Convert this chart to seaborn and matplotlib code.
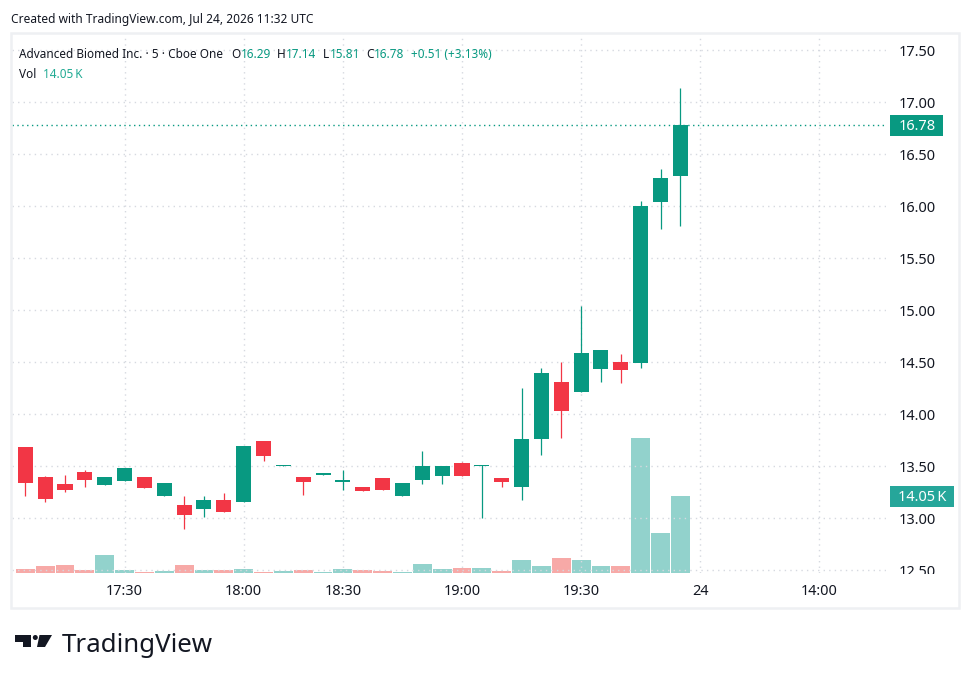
import matplotlib
matplotlib.use("Agg")
import numpy as np
import pandas as pd
import seaborn as sns
import matplotlib.pyplot as plt
from matplotlib.patches import Rectangle, Polygon, Circle
from matplotlib.transforms import IdentityTransform, ScaledTranslation

# ---------------- data ----------------
times = ['17:05', '17:10', '17:15', '17:20', '17:25', '17:30', '17:35', '17:40',
         '17:45', '17:50', '17:55', '18:00', '18:05', '18:10', '18:15', '18:20',
         '18:30', '18:35', '18:40', '18:45', '18:50', '18:55', '19:00', '19:05',
         '19:10', '19:15', '19:20', '19:25', '19:30', '19:35', '19:40', '19:45',
         '19:50', '19:55']
opens = [13.69, 13.40, 13.33, 13.45, 13.32, 13.36, 13.40, 13.21, 13.13, 13.09,
         13.18, 13.16, 13.74, 13.50, 13.40, 13.42, 13.35, 13.30, 13.39, 13.21,
         13.37, 13.41, 13.53, 13.50, 13.39, 13.30, 13.76, 14.31, 14.21, 14.44,
         14.50, 14.49, 16.04, 16.29]
highs = [13.69, 13.41, 13.42, 13.46, 13.40, 13.48, 13.40, 13.34, 13.21, 13.21,
         13.24, 13.70, 13.74, 13.51, 13.40, 13.43, 13.46, 13.30, 13.39, 13.34,
         13.65, 13.50, 13.54, 13.51, 13.39, 14.25, 14.45, 14.50, 15.04, 14.62,
         14.58, 16.05, 16.36, 17.14]
lows = [13.21, 13.16, 13.25, 13.30, 13.32, 13.36, 13.29, 13.21, 12.90, 13.01,
        13.06, 13.16, 13.55, 13.50, 13.22, 13.42, 13.27, 13.26, 13.27, 13.21,
        13.33, 13.33, 13.41, 13.00, 13.30, 13.18, 13.61, 13.77, 14.21, 14.31,
        14.30, 14.45, 15.78, 15.81]
closes = [13.34, 13.19, 13.27, 13.37, 13.40, 13.48, 13.29, 13.34, 13.03, 13.18,
          13.06, 13.70, 13.60, 13.51, 13.35, 13.42, 13.37, 13.26, 13.27, 13.34,
          13.50, 13.50, 13.41, 13.51, 13.35, 13.76, 14.40, 14.03, 14.59, 14.62,
          14.43, 16.00, 16.27, 16.78]
volumes_k = [0.67, 1.23, 1.41, 0.49, 3.24, 0.49, 0.18, 0.31, 1.41, 0.49,
             0.49, 0.67, 0.18, 0.31, 0.49, 0.18, 0.67, 0.49, 0.31, 0.18,
             1.59, 0.67, 0.86, 0.86, 0.31, 2.33, 1.23, 2.69, 2.33, 1.23,
             1.23, 24.7, 7.27, 14.05]
time_tick_pos = [5, 11, 16, 22, 28, 34, 40]
time_tick_labels = ['17:30', '18:00', '18:30', '19:00', '19:30', '24', '14:00']
price_ticks = [12.5, 13.0, 13.5, 14.0, 14.5, 15.0, 15.5, 16.0, 16.5, 17.0, 17.5]
symbol_name = 'Advanced Biomed Inc.'
interval = '5'
exchange = 'Cboe One'
created_text = 'Created with TradingView.com, Jul 24, 2026 11:32 UTC'

# ---------------- style ----------------
UP = '#089981'
DOWN = '#F23645'
UP_VOL = '#92D2CC'
DOWN_VOL = '#F7A9A7'
DARK = '#131722'
GRID = '#D6D9E0'

sns.set_theme(style='white')
plt.rcParams['font.family'] = ['Noto Sans', 'DejaVu Sans']

W, H = 972, 683
fig = plt.figure(figsize=(W / 100, H / 100), dpi=100)
fig.patch.set_facecolor('white')
renderer = fig.canvas.get_renderer()


def fx(x):
    return x / W


def fy(y):
    return 1 - y / H


def fit_size(s, target, weight='normal'):
    t = fig.text(0, 0, s, fontsize=10, fontweight=weight)
    w = t.get_window_extent(renderer).width
    t.remove()
    return 10 * target / w


def text_w(s, size, weight='normal'):
    t = fig.text(0, 0, s, fontsize=size, fontweight=weight)
    w = t.get_window_extent(renderer).width
    t.remove()
    return w


# pane geometry (pixels)
PL, PR, PT, PB = 12, 886, 34, 573
rect = [fx(PL), fy(PB), (PR - PL) / W, (PB - PT) / H]

df = pd.DataFrame({'t': times, 'open': opens, 'high': highs, 'low': lows,
                   'close': closes, 'vol': volumes_k})
df['idx'] = np.arange(len(df))
df['up'] = df['close'] >= df['open']

# volume axes (behind)
axv = fig.add_axes(rect, zorder=1)
vol_colors = [UP_VOL if u else DOWN_VOL for u in df['up']]
sns.barplot(data=df, x='idx', y='vol', hue='idx', palette=vol_colors,
            native_scale=True, width=0.95, saturation=1, linewidth=0,
            legend=False, ax=axv)
axv.set_ylim(0, 98.7)
axv.set_xlim(-0.67, 43.36)
axv.axis('off')

# price axes (front)
ax = fig.add_axes(rect, zorder=2)
ax.set_facecolor('none')
ax.set_xlim(-0.67, 43.36)
ax.set_ylim(12.474, 17.657)
for s in ax.spines.values():
    s.set_visible(False)

colors = [UP if u else DOWN for u in df['up']]
ax.vlines(df['idx'], df['low'], df['high'], colors=colors, linewidth=0.9, zorder=3)
body_bottom = np.minimum(df['open'], df['close'])
body_h = np.maximum(np.abs(df['close'] - df['open']), 0.014)
ax.bar(df['idx'], body_h, bottom=body_bottom, width=0.76, color=colors,
       linewidth=0, zorder=4)

# grid
ax.set_yticks(price_ticks)
ax.set_xticks(time_tick_pos)
ax.set_xticklabels(time_tick_labels)
ax.grid(True, color=GRID, linestyle=(0, (1, 3)), linewidth=1.0)
ax.set_axisbelow(True)
ax.tick_params(axis='y', length=0, left=False, right=False,
               labelleft=False, labelright=False)
tick_fs = fit_size('17:30', 36.7)
ax.tick_params(axis='x', length=0, pad=8, labelsize=tick_fs, colors=DARK)
for lab in ax.get_xticklabels():
    if lab.get_text() == '24':
        lab.set_fontweight('bold')

# last price line
last = closes[-1]
ax.axhline(last, color=UP, linestyle=(0, (1, 2.5)), linewidth=1.0, zorder=2)

# price axis labels (drawn at data y positions)
y_fs = fit_size('17.50', 37)
off = ScaledTranslation(13 / 100, -1.8 / 100, fig.dpi_scale_trans)
for v in price_ticks:
    ax.text(1, v, f'{v:.2f}', transform=ax.get_yaxis_transform() + off,
            ha='left', va='center', fontsize=y_fs, color=DARK,
            fontweight='bold' if float(v).is_integer() else 'normal',
            clip_on=False, zorder=5)

# price-scale area below the pane is cut off (labels clipped at pane bottom)
fig.add_artist(Rectangle((PR + 1, H - 605), 70, 605 - PB - 0.5,
                         transform=IdentityTransform(), facecolor='white',
                         edgecolor='none', zorder=20))

# last price label box
x_right = ax.transAxes.transform((1, 0))[0]
y_last = ax.transData.transform((0, last))[1]
fig.add_artist(Rectangle((x_right + 4, y_last - 10.5), 53, 21,
                         transform=IdentityTransform(), facecolor=UP,
                         edgecolor='none', zorder=21))
fig.text((x_right + 13) / W, (y_last - 1) / H, f'{last:.2f}', color='white',
         fontsize=y_fs, ha='left', va='center', zorder=22)

# volume label box
y_vol = axv.transData.transform((0, volumes_k[-1]))[1]
fig.add_artist(Rectangle((x_right + 4, y_vol - 10.5), 64, 21,
                         transform=IdentityTransform(), facecolor='#26A69A',
                         edgecolor='none', zorder=21))
fig.text((x_right + 12) / W, (y_vol - 1) / H, f'{volumes_k[-1]:.2f}\u2009K',
         color='white', fontsize=y_fs, ha='left', va='center', zorder=22)

# frame
fig.add_artist(Rectangle((11, H - 608), 948, 575, transform=IdentityTransform(),
                         facecolor='none', edgecolor='#EEF0F3', linewidth=1.8,
                         zorder=30))

# header
hs = fit_size(created_text, 301)
fig.text(fx(11), fy(19), created_text, fontsize=hs, color=DARK, va='center', ha='left')

first_seg = f'{symbol_name} \u00b7 {interval} \u00b7 {exchange}'
ls = fit_size(first_seg, 203)
fig.text(fx(19), fy(54), first_seg, fontsize=ls, color=DARK, va='center')
chg = closes[-1] - closes[-2]
pct = chg / closes[-2] * 100
ohlc = [(231, 'O', opens[-1]), (277, 'H', highs[-1]), (323, 'L', lows[-1]),
        (366, 'C', closes[-1])]
for xp, letter, val in ohlc:
    fig.text(fx(xp), fy(54), letter, fontsize=ls, color=DARK, va='center')
    lw_ = text_w(letter, ls)
    fig.text(fx(xp + lw_ + 0.5), fy(54), f'{val:.2f}', fontsize=ls, color=UP, va='center')
fig.text(fx(411), fy(54), f'{chg:+.2f} ({pct:+.2f}%)', fontsize=ls, color=UP, va='center')
fig.text(fx(19), fy(75), 'Vol', fontsize=ls, color=DARK, va='center')
fig.text(fx(43), fy(75), f'{volumes_k[-1]:.2f}\u2009K', fontsize=ls, color='#22AB94', va='center')

# TradingView logo
fig.add_artist(Rectangle((15, H - 641.5), 15.5, 6.5, transform=IdentityTransform(),
                         facecolor=DARK, edgecolor='none'))
fig.add_artist(Rectangle((22.5, H - 647), 8, 7, transform=IdentityTransform(),
                         facecolor=DARK, edgecolor='none'))
fig.add_artist(Circle((35.3, H - 637.5), 2.5, transform=IdentityTransform(),
                      facecolor=DARK, edgecolor='none'))
fig.add_artist(Polygon([(39.5, H - 635), (52, H - 635), (45, H - 647), (37, H - 647)],
                       closed=True, transform=IdentityTransform(),
                       facecolor=DARK, edgecolor='none'))
bs = fit_size('TradingView', 151, weight='bold')
fig.text(fx(62), fy(645), 'TradingView', fontsize=bs, fontweight='bold',
         color=DARK, va='center', ha='left')

fig.savefig('out.png', dpi=100, facecolor='white')
